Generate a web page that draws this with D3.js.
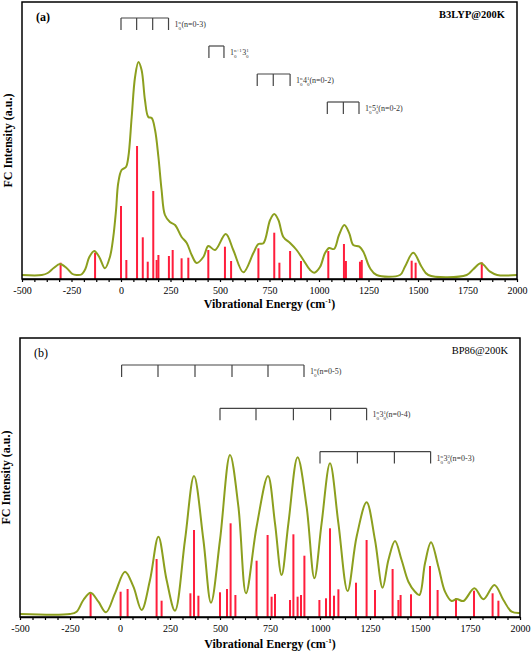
<!DOCTYPE html>
<html><head><meta charset="utf-8">
<script src="https://cdn.jsdelivr.net/npm/d3@7"></script>
<style>
html,body{margin:0;padding:0;background:#fff;}
text{font-family:"Liberation Serif","Times New Roman",serif;}
</style></head>
<body><svg id="c" width="532" height="656"></svg>
<script>
// ---------- DATA ----------
const tickValues = d3.range(-500, 2000.1, 62.5);
const tickLabels = [-500,-250,0,250,500,750,1000,1250,1500,1750,2000];

// Panel (a) B3LYP@200K
const curveA_E = [-500,-400,-370,-340,-308,-275,-245,-225,-200,-180,-160,-135,-110,-81,-56,-39,-25,-14,3,25,37,54,71,88,104,121,138,155,172,189,205,222,247,273,306,332,357,382,416,441,475,529,567,618,668,694,719,753,774,795,820,854,887,921,955,976,1005,1030,1051,1076,1101,1128,1153,1173,1204,1224,1258,1291,1409,1434,1476,1518,1552,1746,1779,1818,1864,1900,2000];
const curveA_I = [4,4,6,11,15,11,5,4,4.5,10,22,28,22,10.7,22,42,69,96,109,112,122,162,202,217,209,179,162,161,149,122,89,64,57,54,42,36,24,16,22,33,29,45,29,6.7,25.7,35,35.7,59,65,59,42,36,29,19,9,6.3,12,25.7,31,30,44,54,45.7,34,32.3,27.3,10.7,4,4,12.3,26.3,12.3,4,4,9.7,15.7,7.3,4,4];
const barsA_E = [-305,-131,0,27,81,110,135,163,180,189,242,261,306,340,441,525,556,694,774,800,854,909,1047,1126,1136,1207,1216,1468,1488,1822];
const barsA_I = [16.3,26.3,73,19,133,41.7,17.3,88,19,24,23,29,20.7,21.3,29,32.3,18,30.7,46.3,16.3,28,18,28,35,18,17.3,19,18.3,16.3,16.7];
const combsA = [
  {pos:[0,79,160,240], level:0, label:["1","n","0","","","","(n=0-3)"]},
  {pos:[444,520], level:1, label:["1","n+1","0","3","1","0",""]},
  {pos:[688,769,854], level:2, label:["1","n","0","4","1","0","(n=0-2)"]},
  {pos:[1042,1123,1202], level:3, label:["1","n","0","5","1","0","(n=0-2)"]}
];

// Panel (b) BP86@200K
const curveB_E = [-500,-250,-217,-183,-147,-108,-70,-25,25,67,108,150,192,233,275,325,370,417,455,500,550,592,630,683,740,775,808,842,888,933,972,1008,1050,1092,1138,1183,1233,1275,1313,1342,1375,1408,1442,1475,1497,1525,1555,1592,1625,1658,1683,1717,1772,1817,1872,1917,1958,2000];
const curveB_I = [3,3,5.3,17,24.3,15.3,4.7,23.7,45.3,30.3,7,37,80.3,37,6.3,77,141,77,14.3,77,162,110.3,23.7,90.3,141,93.7,42,93.7,159.7,110.3,38.7,93.7,153.7,93.7,26,80.3,114.7,77,29.3,57,76,57,35.3,25.3,22,53.7,74.7,50.3,25.3,16,18,16,28.7,17.7,32,17,5.3,4];
const barsB_E = [-147,3,38,183,208,352,370,392,500,535,553,577,683,738,758,775,850,867,888,905,922,997,1030,1050,1070,1092,1180,1233,1275,1363,1392,1403,1455,1550,1588,1680,1770,1863,1892];
const barsB_I = [23.7,25.3,28,58,16.3,23.7,87,21.3,24.7,28,93.7,22,56.3,82,20.3,23,17,82.7,20.3,22,61.3,17,18.7,88.7,21.3,27.7,34.3,77,27,48,17,22,22.7,51,27,18.7,26.3,23.7,16.3];
const combsB = [
  {pos:[8,190,375,560,740,920], level:0, label:["1","n","0","","","","(n=0-5)"]},
  {pos:[500,680,867,1053,1233], level:1, label:["1","n","0","3","1","0","(n=0-4)"]},
  {pos:[1000,1187,1372,1553], level:2, label:["1","n","0","3","2","0","(n=0-3)"]}
];

// ---------- DRAW ----------
const svg = d3.select("#c");
const BAR = "#ff1e3c", LINE = "#8c9f1e";

function panel(cfg){
  const g = svg.append("g");
  const x = d3.scaleLinear().domain([-500,2000]).range([cfg.left, cfg.right]);
  const y = d3.scaleLinear().domain([0, cfg.ymax]).range([cfg.bottom, cfg.top]);

  g.selectAll("rect.bar").data(cfg.barsE.map((e,i)=>[e,cfg.barsI[i]])).join("rect")
    .attr("x", d=>x(d[0])-1).attr("width",2)
    .attr("y", d=>y(d[1])).attr("height", d=>y(0)-y(d[1]))
    .attr("fill", BAR);

  const line = d3.line().x(d=>x(d[0])).y(d=>y(d[1])).curve(d3.curveCatmullRom.alpha(0.5));
  g.append("path").datum(cfg.curveE.map((e,i)=>[e,cfg.curveI[i]]))
    .attr("d", line).attr("fill","none").attr("stroke",LINE).attr("stroke-width",2);

  g.append("rect").attr("x",cfg.left).attr("y",cfg.top)
    .attr("width",cfg.right-cfg.left).attr("height",cfg.bottom-cfg.top)
    .attr("fill","none").attr("stroke","#000").attr("stroke-width",1.5);

  const ax = d3.axisBottom(x).tickValues(tickValues).tickSize(3).tickSizeOuter(0)
    .tickFormat(d=> tickLabels.includes(d) ? String(d) : "");
  const axg = g.append("g").attr("transform",`translate(0,${cfg.bottom})`).call(ax)
    .attr("font-family",null);
  axg.select(".domain").attr("stroke","#000").attr("stroke-width",1.5);
  axg.selectAll(".tick line").attr("stroke","#000").attr("stroke-width",1.2);
  axg.selectAll(".tick text").attr("font-family","Liberation Serif").attr("font-size",10)
    .attr("fill","#000").attr("dy","0.9em");

  const xt = g.append("text").attr("x",(cfg.left+cfg.right)/2).attr("y",cfg.bottom+cfg.xtitleDy)
    .attr("text-anchor","middle").attr("font-weight","bold").attr("font-size",12);
  xt.append("tspan").text("Vibrational Energy (cm");
  xt.append("tspan").text("-1").attr("font-size",7).attr("dy",-5);
  xt.append("tspan").text(")").attr("dy",5);

  g.append("text").attr("transform",`translate(${cfg.ytitleX},${(cfg.top+cfg.bottom)/2}) rotate(-90)`)
    .attr("text-anchor","middle").attr("font-weight","bold").attr("font-size",12)
    .text("FC Intensity (a.u.)");

  g.append("text").attr("x",cfg.left+14).attr("y",cfg.top+19).attr("font-size",12)
    .attr("font-weight",cfg.bold?"bold":"normal").text(cfg.tag);
  g.append("text").attr("x",cfg.right-12).attr("y",cfg.top+16).attr("font-size",10.5)
    .attr("text-anchor","end").attr("font-weight",cfg.bold?"bold":"normal").text(cfg.method);

  cfg.combs.forEach(c=>{
    const yt = cfg.combTop + c.level*cfg.combStep;
    const cg = g.append("g").attr("stroke","#444").attr("stroke-width",1.2).attr("fill","none");
    cg.append("line").attr("x1",x(c.pos[0])).attr("x2",x(c.pos[c.pos.length-1]))
      .attr("y1",yt).attr("y2",yt);
    c.pos.forEach(p=>cg.append("line").attr("x1",x(p)).attr("x2",x(p)).attr("y1",yt).attr("y2",yt+12));
    const L = c.label;
    const t = g.append("text").attr("x",x(c.pos[c.pos.length-1])+6).attr("y",yt+9)
      .attr("font-size",8).attr("fill","#333");
    t.append("tspan").text(L[0]);
    t.append("tspan").text(L[1]).attr("font-size",5).attr("dy",-3);
    t.append("tspan").text(L[2]).attr("font-size",5).attr("dx",-(L[1].length*2.6)).attr("dy",6);
    if(L[3]){
      t.append("tspan").text(L[3]).attr("dy",-3).attr("dx",(L[1].length-1)*2.6+0.5);
      t.append("tspan").text(L[4]).attr("font-size",5).attr("dy",-3);
      t.append("tspan").text(L[5]).attr("font-size",5).attr("dx",-2.6).attr("dy",6);
      t.append("tspan").text(L[6]).attr("dy",-3);
    } else {
      t.append("tspan").text(L[6]).attr("dy",-3).attr("dx",(L[1].length-1)*2.6+0.5);
    }
  });
}

panel({left:22,right:517,top:2,bottom:279,ymax:277,barsE:barsA_E,barsI:barsA_I,curveE:curveA_E,curveI:curveA_I,
  combs:combsA,combTop:18,combStep:28,tag:"(a)",method:"B3LYP@200K",bold:true,xtitleDy:29,ytitleX:12});
panel({left:20,right:520,top:338,bottom:617,ymax:279,barsE:barsB_E,barsI:barsB_I,curveE:curveB_E,curveI:curveB_I,
  combs:combsB,combTop:365,combStep:43.3,tag:"(b)",method:"BP86@200K",bold:false,xtitleDy:31,ytitleX:10});
</script></body></html>
